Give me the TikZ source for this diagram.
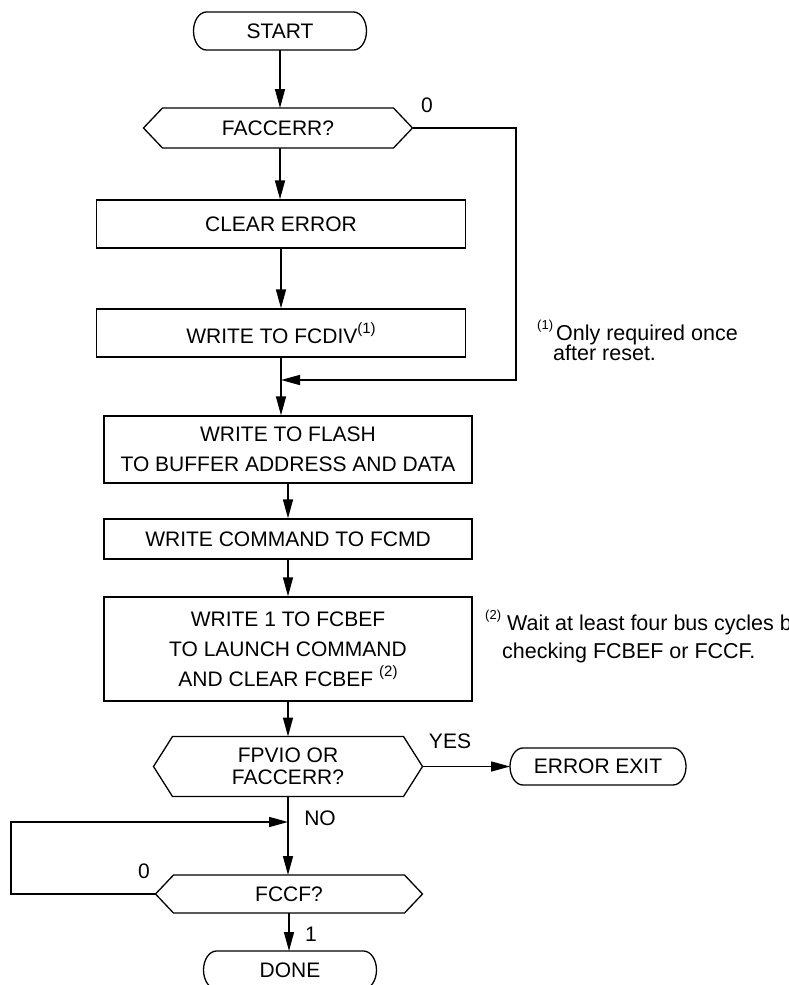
\documentclass[tikz,border=0pt]{standalone}
\usepackage{fontspec}
\setmainfont{Liberation Sans}
\usetikzlibrary{arrows.meta,calc}
\newcommand\fs{\fontsize{21}{30}\selectfont}
\newcommand\fn{\fontsize{21.5}{22}\selectfont}
\newcommand\sups[1]{\raisebox{0.45em}{\fontsize{15}{15}\selectfont #1}}
\newcommand\nsups[1]{\raisebox{0.5em}{\fontsize{13}{13}\selectfont #1}}
\newcommand\hexdraw[2]{\draw[line] (#1.north west) -- ([xshift=-#2]#1.west) -- (#1.south west) -- (#1.south east) -- ([xshift=#2]#1.east) -- (#1.north east) -- cycle;}
\newcommand\termdraw[2]{\draw[line] ([xshift=13pt]#1.north west) -- ([xshift=-13pt]#1.north east) arc[start angle=90,end angle=-90,x radius=13pt,y radius=#2] -- ([xshift=13pt]#1.south west) arc[start angle=270,end angle=90,x radius=13pt,y radius=#2] -- cycle;}
\begin{document}
\begin{tikzpicture}[x=1pt,y=-1pt,
  line/.style={line width=1.3pt},
  conn/.style={line width=1.5pt,-{Triangle[length=19pt,width=10pt]}},
  procbox/.style={draw,line width=1.3pt,inner sep=0pt,align=center,font=\fs,minimum width=369pt},
  hexbox/.style={inner sep=0pt,outer sep=0pt,align=center,font=\fs,minimum width=231pt},
  termbox/.style={inner sep=0pt,outer sep=0pt,font=\fs,minimum width=173pt,minimum height=38pt},
  lbl/.style={inner sep=0pt,font=\fs},
  note/.style={inner sep=0pt,anchor=base west,font=\fn},
]
\useasboundingbox[fill=white] (0,0) rectangle (788,985);

% nodes
\node[termbox] (start) at (280,31) {START};
\termdraw{start}{19pt}
\node[hexbox,minimum height=40pt] (d1) at (278,128) {FACCERR?};
\hexdraw{d1}{19pt}
\node[procbox,minimum height=48pt] (clr) at (281,224) {CLEAR ERROR};
\node[procbox,minimum height=48pt] (div) at (281,333) {WRITE TO FCDIV\sups{(1)}};
\node[procbox,minimum width=368pt,minimum height=67pt] (flash) at (288,449.5) {WRITE TO FLASH\\TO BUFFER ADDRESS AND DATA};
\node[procbox,minimum width=368pt,minimum height=40pt] (cmd) at (288,539) {WRITE COMMAND TO FCMD};
\node[procbox,minimum width=368pt,minimum height=104pt] (bef) at (288,649) {WRITE 1 TO FCBEF\\TO LAUNCH COMMAND\\AND CLEAR FCBEF \sups{(2)}};
\node[hexbox,minimum height=60pt,font={\fontsize{21}{22}\selectfont}] (d2) at (288,766.5) {FPVIO OR\\FACCERR?};
\hexdraw{d2}{19pt}
\node[termbox,minimum width=176pt,minimum height=37pt] (err) at (598,766.5) {ERROR EXIT};
\termdraw{err}{18.5pt}
\node[hexbox,minimum height=38pt] (d3) at (289,894) {FCCF?};
\hexdraw{d3}{18pt}
\node[termbox] (done) at (290,970) {DONE};
\termdraw{done}{19pt}

% named points
\coordinate (d1r) at ([xshift=19pt]d1.east);
\coordinate (rc) at (516,380);
\coordinate (d2r) at ([xshift=19pt]d2.east);
\coordinate (d3l) at ([xshift=-18pt]d3.west);
\coordinate (lc) at (11,822);

% connectors
\draw[conn] (start.south) -- (start.south |- d1.north);
\draw[conn] (start.south |- d1.south) -- (start.south |- clr.north);
\draw[conn] (clr.south) -- (div.north);
\draw[conn] (div.south) -- (div.south |- flash.north);
\draw[conn] (d1r) -- (d1r -| rc) -- (rc) -- (rc -| div.south);
\draw[conn] (flash.south) -- (cmd.north);
\draw[conn] (cmd.south) -- (bef.north);
\draw[conn] (bef.south) -- (bef.south |- d2.north);
\draw[conn] (d2r) -- (err.west);
\draw[conn] (bef.south |- d2.south) -- (bef.south |- d3.north);
\draw[conn] (d3l) -- (d3l -| lc) -- (lc) -- (lc -| bef.south);
\draw[conn] (d3.south) -- (d3.south |- done.north);

% labels
\node[lbl] (l0a) at (427,105) {0};
\node[lbl] (lyes) at (450,741) {YES};
\node[lbl] (lno) at (320,818) {NO};
\node[lbl] (l0b) at (144,871) {0};
\node[lbl] (l1) at (311,934) {1};

% notes
\node[note] (n1a) at (537,340) {\nsups{(1)}\kern3pt Only required once};
\node[note] (n1b) at (553,360) {after reset.};
\node[note] (n2a) at (485,630) {\nsups{(2)} Wait at least four bus cycles before};
\node[note] (n2b) at (502,658) {checking FCBEF or FCCF.};
\end{tikzpicture}
\end{document}
